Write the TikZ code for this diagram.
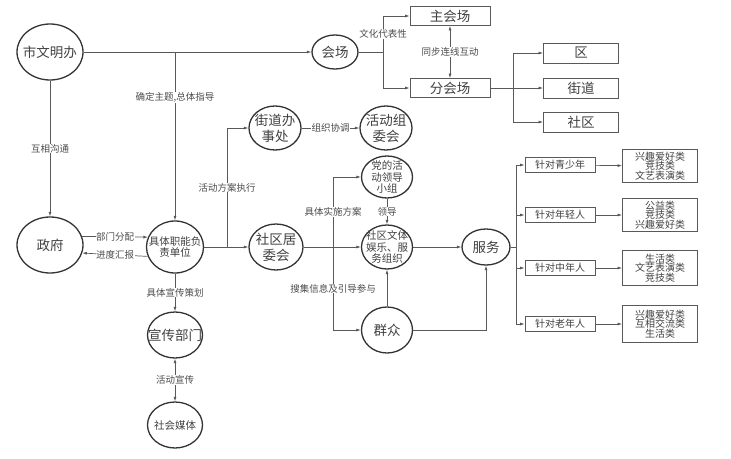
\documentclass[tikz,border=0pt]{standalone}
\usepackage{fontspec}
\setmainfont{Noto Sans CJK SC}
\usetikzlibrary{arrows.meta,shapes.geometric}

\tikzset{
  oval/.style={ellipse, draw=black!80, line width=1.3pt, inner sep=0pt},
  big/.style={font=\fontsize{13.5}{16}\selectfont, text=black!75, align=center},
  small/.style={font=\fontsize{10.5}{11.5}\selectfont, text=black!75, align=center},
  box/.style={draw=black!65, line width=0.8pt, inner sep=0pt, text=black!75},
  lbl/.style={font=\fontsize{9.5}{10}\selectfont, text=black!70, fill=white, inner sep=0.5pt},
  arr/.style={draw=black!65, line width=0.7pt, -{Latex[length=4.5pt,width=3pt]}},
  dbl/.style={draw=black!65, line width=0.7pt, {Latex[length=4.5pt,width=3pt]}-{Latex[length=4.5pt,width=3pt]}},
  ln/.style={draw=black!65, line width=0.7pt},
}

\begin{document}
\begin{tikzpicture}[x=1pt,y=-1pt]
			\useasboundingbox (0,0) rectangle (731,458);

			\node[oval, minimum width=66pt, minimum height=56pt, label={[big]center:市文明办}] (swmb) at (50,52) {};
			\node[oval, minimum width=46pt, minimum height=34pt, label={[big]center:会场}] (hc) at (335,52) {};
			\node[oval, minimum width=66pt, minimum height=56pt, label={[big]center:政府}] (zf) at (50,245) {};
			\node[oval, minimum width=57pt, minimum height=52pt, label={[small]center:具体职能负\\责单位}] (jt) at (175,247) {};
			\node[oval, minimum width=52pt, minimum height=44pt, label={[big]center:街道办\\事处}] (jdb) at (275,128) {};
			\node[oval, minimum width=52pt, minimum height=44pt, label={[big]center:活动组\\委会}] (hdzw) at (386,128) {};
			\node[oval, minimum width=51pt, minimum height=42pt, label={[small]center:党的活\\动领导\\小组}] (ddxz) at (387,177) {};
			\node[oval, minimum width=54pt, minimum height=46pt, label={[big]center:社区居\\委会}] (sqjw) at (276,247) {};
			\node[oval, minimum width=51pt, minimum height=44pt, label={[small]center:社区文体\\娱乐、服\\务组织}] (whzz) at (387,247) {};
			\node[oval, minimum width=51pt, minimum height=46pt, label={[big]center:群众}] (qz) at (387,330) {};
			\node[oval, minimum width=48pt, minimum height=36pt, label={[big]center:服务}] (fw) at (486,247) {};
			\node[oval, minimum width=55pt, minimum height=46pt, label={[big]center:宣传部门}] (xcbm) at (175,335) {};
			\node[oval, minimum width=55pt, minimum height=46pt, label={[small]center:社会媒体}] (shmt) at (175,425) {};

			\node[box, big, minimum width=80pt, minimum height=19pt] (zhc) at (450,16) {主会场};
			\node[box, big, minimum width=80pt, minimum height=19pt] (fhc) at (450,88) {分会场};
			\node[box, big, minimum width=75pt, minimum height=20pt] (qu) at (581,53) {区};
			\node[box, big, minimum width=75pt, minimum height=20pt] (jd) at (581,88) {街道};
			\node[box, big, minimum width=75pt, minimum height=20pt] (sq) at (581,122) {社区};

			\node[box, small, font=\fontsize{10}{11}\selectfont, minimum width=70pt, minimum height=15pt] (qsn) at (560,165) {针对青少年};
			\node[box, small, font=\fontsize{10}{11}\selectfont, minimum width=70pt, minimum height=15pt] (qnr) at (560,215) {针对年轻人};
			\node[box, small, font=\fontsize{10}{11}\selectfont, minimum width=70pt, minimum height=15pt] (znr) at (560,268) {针对中年人};
			\node[box, small, font=\fontsize{10}{11}\selectfont, minimum width=70pt, minimum height=15pt] (lnr) at (560,324) {针对老年人};

			\node[box, small, font=\fontsize{10}{9.5}\selectfont, minimum width=75pt, minimum height=33pt] (lb1) at (660,166) {兴趣爱好类\\竞技类\\文艺表演类};
			\node[box, small, font=\fontsize{10}{9.5}\selectfont, minimum width=75pt, minimum height=33pt] (lb2) at (660,215) {公益类\\竞技类\\兴趣爱好类};
			\node[box, small, font=\fontsize{10}{9.5}\selectfont, minimum width=75pt, minimum height=35pt] (lb3) at (660,268) {生活类\\文艺表演类\\竞技类};
			\node[box, small, font=\fontsize{10}{9.5}\selectfont, minimum width=75pt, minimum height=37pt] (lb4) at (660,324) {兴趣爱好类\\互相交流类\\生活类};

			\coordinate (b1) at (175,52);
			\coordinate (b2) at (383,52);
			\coordinate (b3) at (513,88);
			\coordinate (b4) at (227,247);
			\coordinate (b5) at (333,247);
			\coordinate (b6) at (516,247);

			\draw[arr] (swmb) -- (hc);
			\draw[arr] (b1) -- node[lbl, pos=0.27] {确定主题,总体指导} (jt);
			\draw[arr] (swmb) -- node[lbl] {互相沟通} (zf);
			\draw[ln] (hc) -- (b2);
			\draw[arr] (b2) |- node[lbl, pos=0.25] {文化代表性} (zhc);
			\draw[arr] (b2) |- (fhc);
			\draw[dbl] (zhc) -- node[lbl] {同步连线互动} (fhc);
			\draw[ln] (fhc) -- (b3);
			\draw[arr] (b3) |- (qu);
			\draw[arr] (b3) -- (jd);
			\draw[arr] (b3) |- (sq);

			\draw[arr] (zf.15) -- node[lbl] {部门分配} (jt.160);
			\draw[arr] (jt.199) -- node[lbl] {进度汇报} (zf.-14);
			\draw[arr] (jt) -- (sqjw);
			\draw[arr] (b4) |- node[lbl, pos=0.25] {活动方案执行} (jdb);
			\draw[arr] (jdb) -- node[lbl] {组织协调} (hdzw);
			\draw[arr] (sqjw) -- (whzz);
			\draw[arr] (b5) |- node[lbl, pos=0.25] {具体实施方案} (ddxz);
			\draw[arr] (b5) |- node[lbl, pos=0.25] {搜集信息及引导参与} (qz);
			\draw[arr] (ddxz) -- node[lbl] {领导} (whzz);
			\draw[arr] (qz) -- (whzz);
			\draw[arr] (whzz) -- (fw);
			\draw[arr] (qz) -| (fw);

			\draw[ln] (fw) -- (b6);
			\draw[arr] (b6) |- (qsn);
			\draw[arr] (b6) |- (qnr);
			\draw[arr] (b6) |- (znr);
			\draw[arr] (b6) |- (lnr);
			\draw[arr] (qsn) -- (lb1);
			\draw[arr] (qnr) -- (lb2);
			\draw[arr] (znr) -- (lb3);
			\draw[arr] (lnr) -- (lb4);

			\draw[arr] (jt) -- node[lbl] {具体宣传策划} (xcbm);
			\draw[dbl] (xcbm) -- node[lbl] {活动宣传} (shmt);
		\end{tikzpicture}
\end{document}
